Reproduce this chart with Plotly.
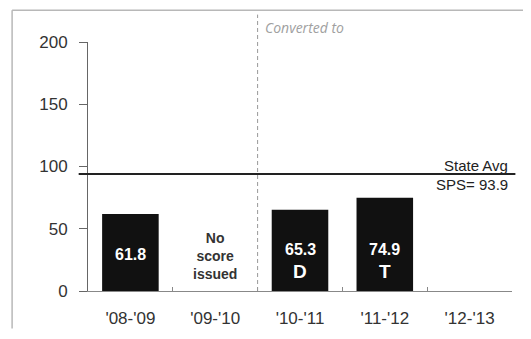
import plotly.graph_objects as go

years = ["'08-'09", "'09-'10", "'10-'11", "'11-'12", "'12-'13"]
sps = [61.8, None, 65.3, 74.9, None]
grades = ["", "", "D", "T", ""]
state_avg = 93.9
y_ticks = [0, 50, 100, 150, 200]

fig = go.Figure()

fig.add_trace(go.Bar(
    x=years, y=sps,
    marker=dict(color="#111111", line=dict(width=0)),
    width=0.667,
    hoverinfo="x+y",
))

# value labels inside the bars
for yr, v, g in zip(years, sps, grades):
    if v is None:
        continue
    if g:
        fig.add_annotation(x=yr, y=33, text="<b>%.1f</b>" % v, showarrow=False,
                           font=dict(family="Arial", size=16, color="white"))
        fig.add_annotation(x=yr, y=16, text="<b>%s</b>" % g, showarrow=False,
                           font=dict(family="Arial", size=19, color="white"))
    else:
        fig.add_annotation(x=yr, y=29, text="<b>%.1f</b>" % v, showarrow=False,
                           font=dict(family="Arial", size=16, color="white"))

fig.add_annotation(x=years[1], y=28, text="<b>No<br>score<br>issued</b>", showarrow=False,
                   font=dict(family="Arial", size=14, color="#333333"))

# state average line
fig.add_shape(type="line", xref="paper", yref="y", x0=-0.022, x1=1.008,
              y0=state_avg, y1=state_avg, line=dict(color="#222222", width=2))
fig.add_annotation(xref="paper", yref="y", x=0.995, y=state_avg, text="State Avg",
                   showarrow=False, xanchor="right", yanchor="middle", yshift=9,
                   font=dict(family="Arial", size=15, color="#222222"))
fig.add_annotation(xref="paper", yref="y", x=0.995, y=state_avg, text="SPS= %.1f" % state_avg,
                   showarrow=False, xanchor="right", yanchor="middle", yshift=-10,
                   font=dict(family="Arial", size=15, color="#222222"))

# conversion divider
fig.add_shape(type="line", xref="x", yref="paper", x0=1.5, x1=1.5, y0=0, y1=1.11,
              line=dict(color="#999999", width=1, dash="4px,3px"))
fig.add_annotation(xref="x", yref="paper", x=1.5, y=1.06, xshift=5, text="<i>Converted to</i>",
                   showarrow=False, xanchor="left", yanchor="middle",
                   font=dict(family="Open Sans", size=14, color="#a0a0a0"))

# outer frame (top and left edges)
fig.add_shape(type="line", xref="paper", yref="paper", x0=-0.179, x1=1.05, y0=1.128, y1=1.128,
              line=dict(color="#b8b8b8", width=1.5))
fig.add_shape(type="line", xref="paper", yref="paper", x0=-0.179, x1=-0.179, y0=1.128, y1=-0.151,
              line=dict(color="#b8b8b8", width=1.5))

fig.update_layout(
    width=523, height=331,
    margin=dict(l=80, r=19, t=34, b=48),
    paper_bgcolor="white", plot_bgcolor="white",
    showlegend=False,
    font=dict(family="Arial", color="#333333"),
)
fig.update_xaxes(
    type="category", showline=True, linecolor="#888888", linewidth=1,
    ticks="inside", tickson="boundaries", ticklen=4, tickcolor="#888888",
    tickfont=dict(family="Arial", size=17, color="#333333"),
    ticklabelstandoff=12, showgrid=False, zeroline=False,
)
fig.update_yaxes(
    range=[0, 200], tickvals=y_ticks, showline=True, linecolor="#666666", linewidth=1,
    ticks="outside", ticklen=8, tickcolor="#666666",
    tickfont=dict(family="Arial", size=17, color="#333333"),
    ticklabelstandoff=8, showgrid=False, zeroline=False,
)

fig.write_html("out.html")
